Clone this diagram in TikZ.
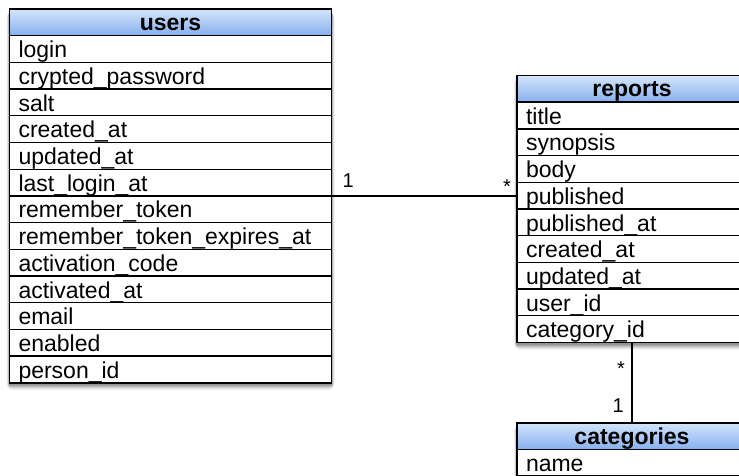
\documentclass[tikz,border=0pt]{standalone}
\usepackage{fontspec}
\setmainfont{Liberation Sans}
\usetikzlibrary{backgrounds,calc}

\definecolor{headtop}{HTML}{D4E5FB}
\definecolor{headbot}{HTML}{86B0EE}

\tikzset{
  cellfont/.style={font=\fontsize{23}{27}\selectfont},
  tabhead/.style={font=\fontsize{23}{27}\selectfont\bfseries,
    draw=black, line width=1.5pt, top color=headtop, bottom color=headbot,
    inner xsep=0pt, inner ysep=0pt, outer sep=0pt,
    text height=21.3pt, text depth=5.4pt, anchor=north west},
  tabrow/.style={cellfont, draw=black, line width=1.3pt, fill=white,
    inner xsep=9pt, inner ysep=0pt, outer sep=0pt, align=left,
    text height=22pt, text depth=4.7pt, anchor=north west},
  tabframe/.style={draw=black, line width=1.9pt},
  relation/.style={draw=black, line width=1.4pt},
  mult/.style={font=\fontsize{20}{24}\selectfont, inner sep=0pt},
}

% soft shadow under a table, from its header to its last row
\newcommand\tabshadow[2]{%
  \foreach \s/\a in {6/0.04,5/0.05,4/0.07,3/0.09,2/0.11,1/0.14}{%
    \fill[black, opacity=\a, rounded corners=\s pt]
      ($(#1.north west)+(-\s*0.5,3)$) rectangle ($(#2.south east)+(\s*0.5,1.5+\s)$);
  }%
}

\begin{document}
\begin{tikzpicture}[x=1pt, y=-1pt]
\clip (0,0) rectangle (739,476);

% users table
\node[tabhead, minimum width=322pt] (u0) at (9.5,9) {users};
\foreach \t [count=\i, remember=\i as \p (initially 0)] in
  {login, crypted\_password, salt, created\_at, updated\_at, last\_login\_at,
   remember\_token, remember\_token\_expires\_at, activation\_code,
   activated\_at, email, enabled, person\_id}
  \node[tabrow, text width=304pt] (u\i) at (u\p.south west) {\t};
\draw[tabframe] (u0.north west) rectangle (u13.south east);
\draw[line width=1.6pt] (u0.south west) -- (u0.south east);

% reports table
\node[tabhead, minimum width=230pt] (r0) at (517,75.5) {reports};
\foreach \t [count=\i, remember=\i as \p (initially 0)] in
  {title, synopsis, body, published, published\_at, created\_at,
   updated\_at, user\_id, category\_id}
  \node[tabrow, text width=212pt] (r\i) at (r\p.south west) {\t};
\draw[tabframe] (r0.north west) rectangle (r9.south east);
\draw[line width=1.6pt] (r0.south west) -- (r0.south east);

% categories table
\node[tabhead, minimum width=230pt] (c0) at (517,422.7) {categories};
\node[tabrow, text width=212pt] (c1) at (c0.south west) {name};
\draw[tabframe] (c0.north west) rectangle (c1.south east);
\draw[line width=1.6pt] (c0.south west) -- (c0.south east);

% white page, then the shadows behind the tables
\begin{scope}[on background layer]
  \fill[white] (0,0) rectangle (739,476);
  \tabshadow{u0}{u13}
  \tabshadow{r0}{r9}
  \tabshadow{c0}{c1}
\end{scope}

% users 1 -- * reports
\draw[relation] (u6.south east) -- (u6.south east -| r0.west);
\node[mult, anchor=base west] (m1) at ($(u6.south east)+(11,-8)$) {1};
\node[mult, anchor=base east] (m2) at ($(u6.south east -| r0.west)+(-6,-2)$) {*};

% reports * -- 1 categories
\draw[relation] (r9.south) -- (c0.north);
\node[mult, anchor=base east] (m3) at ($(r9.south)+(-7,33)$) {*};
\node[mult, anchor=base east] (m4) at ($(c0.north)+(-8,-10.5)$) {1};
\end{tikzpicture}
\end{document}
